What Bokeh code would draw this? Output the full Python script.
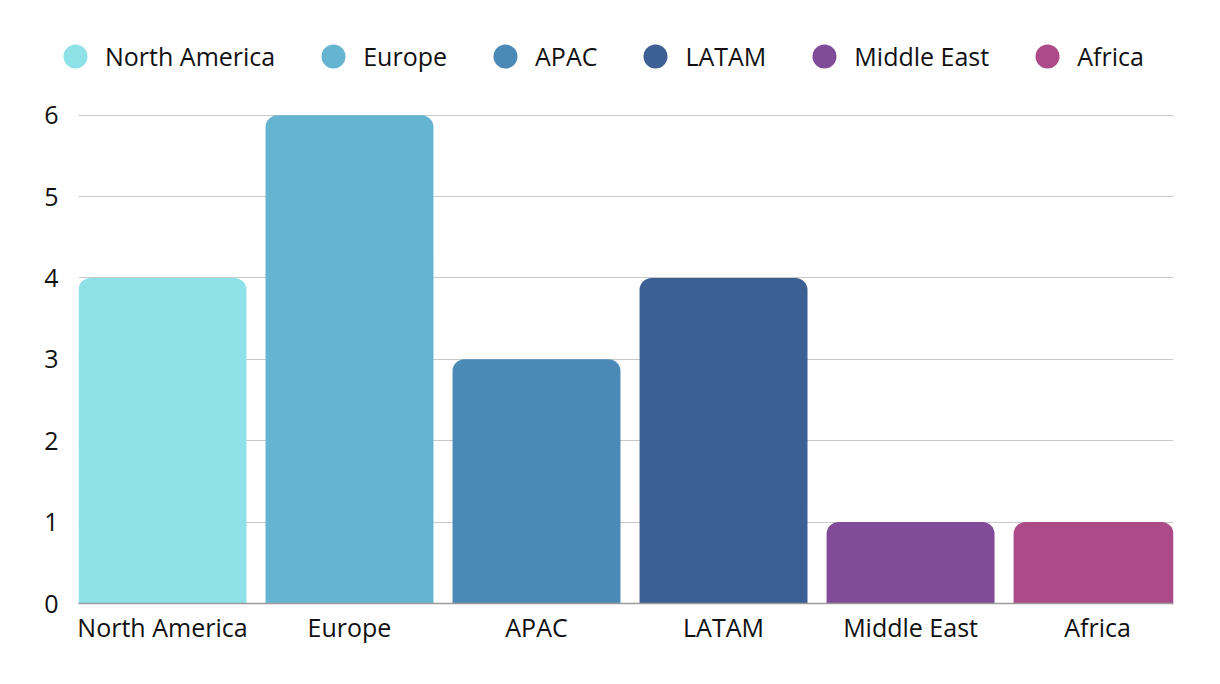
from bokeh.plotting import figure
from bokeh.layouts import column, row
from bokeh.models import Range1d, FixedTicker, Legend, LegendItem, ColumnDataSource
from bokeh.embed import file_html
from bokeh.resources import INLINE

regions = ["North America", "Europe", "APAC", "LATAM", "Middle East", "Africa"]
values = [4, 6, 3, 4, 1, 1]
colors = ["#8EE1E7", "#66B5D0", "#4B8AB6", "#3C5F94", "#804B98", "#AC4A8A"]
y_ticks = [0, 1, 2, 3, 4, 5, 6]

FONT = "Open Sans"
FS = "25px"
idx = list(range(len(regions)))

src = ColumnDataSource(dict(x=idx, top=values, color=colors, name=regions))

# ---- legend strip (top) ----
lg = figure(width=1220, height=98, output_backend="svg", toolbar_location=None,
            x_range=Range1d(0, 1), y_range=Range1d(0, 1),
            min_border_left=0, min_border_right=0, min_border_top=0, min_border_bottom=0)
lg.axis.visible = False
lg.grid.visible = False
lg.outline_line_color = None

items = []
for i, (r, c) in enumerate(zip(regions, colors)):
    s = ColumnDataSource(dict(x=[idx[i]], y=[values[i]]))
    rr = lg.scatter(x="x", y="y", source=s, marker="circle", size=0, fill_color=c, line_color=None)
    items.append(LegendItem(label=r, renderers=[rr]))

legend = Legend(items=items, orientation="horizontal", location=(45, 12),
                glyph_width=60, glyph_height=60, label_standoff=0, spacing=28,
                padding=0, margin=0, border_line_color=None, background_fill_alpha=0,
                label_text_font=FONT, label_text_font_size=FS, label_text_color="#111111",
                label_height=30)
lg.add_layout(legend, "center")

# ---- main chart ----
p = figure(width=1220, height=586, output_backend="svg", toolbar_location=None,
           x_range=Range1d(-0.449, 5.406), y_range=Range1d(0, 6.02),
           min_border_left=78, min_border_right=47, min_border_bottom=81, min_border_top=15)
p.outline_line_color = None
p.background_fill_color = "white"

p.vbar(x="x", top="top", bottom=0, width=0.898, fill_color="color", line_color=None,
       border_radius=(12, 12, 0, 0), source=src)

p.xaxis.ticker = FixedTicker(ticks=idx)
p.xaxis.major_label_overrides = {i: r for i, r in enumerate(regions)}
p.xaxis.major_tick_line_color = None
p.xaxis.minor_tick_line_color = None
p.xaxis.axis_line_color = "#9a9a9a"
p.xaxis.axis_line_width = 1.5
p.xaxis.major_label_text_font = FONT
p.xaxis.major_label_text_font_size = FS
p.xaxis.major_label_text_color = "#111111"
p.xaxis.major_label_standoff = 0

p.yaxis.ticker = FixedTicker(ticks=y_ticks)
p.yaxis.axis_line_color = None
p.yaxis.major_tick_line_color = None
p.yaxis.minor_tick_line_color = None
p.yaxis.major_label_text_font = FONT
p.yaxis.major_label_text_font_size = FS
p.yaxis.major_label_text_color = "#111111"
p.yaxis.major_label_standoff = 14

p.xgrid.grid_line_color = None
p.ygrid.ticker = FixedTicker(ticks=y_ticks[1:])
p.ygrid.grid_line_color = "#c8c8c8"
p.ygrid.grid_line_width = 1.2

layout = column(row(lg), p, spacing=0)
open("out.html", "w").write(file_html(layout, INLINE))
